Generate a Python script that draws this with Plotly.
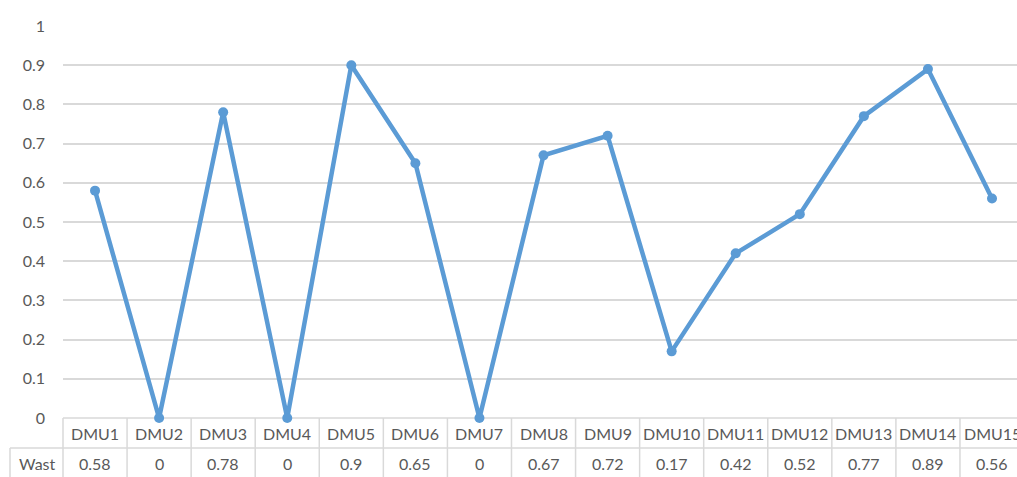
import plotly.graph_objects as go

categories = ["DMU1", "DMU2", "DMU3", "DMU4", "DMU5", "DMU6", "DMU7", "DMU8",
              "DMU9", "DMU10", "DMU11", "DMU12", "DMU13", "DMU14", "DMU15"]
wast = [0.58, 0, 0.78, 0, 0.9, 0.65, 0, 0.67, 0.72, 0.17, 0.42, 0.52, 0.77, 0.89, 0.56]
value_labels = ["0.58", "0", "0.78", "0", "0.9", "0.65", "0", "0.67", "0.72",
                "0.17", "0.42", "0.52", "0.77", "0.89", "0.56"]
series_name = "Wast"
y_ticks = [0, 0.1, 0.2, 0.3, 0.4, 0.5, 0.6, 0.7, 0.8, 0.9, 1]
y_tick_labels = ["0", "0.1", "0.2", "0.3", "0.4", "0.5", "0.6", "0.7", "0.8", "0.9", "1"]

FIG_W, FIG_H = 1017, 477
ML, MR, MT, MB = 63, 0, 26, 59
PW, PH = FIG_W - ML - MR, FIG_H - MT - MB
X_MIN, X_MAX = -0.5, 14.39
SPAN = X_MAX - X_MIN

TEXT = "#595959"
GRID = "#d9d9d9"
LINE = "#5b9bd5"
FONT = "Lato"

fig = go.Figure()
fig.add_trace(go.Scatter(
    x=categories, y=wast, mode="lines+markers", name=series_name,
    line=dict(color=LINE, width=4.5),
    marker=dict(color=LINE, size=10),
    cliponaxis=False,
))

row1 = -30 / PH
row2 = -62 / PH
wast_left = -53 / PW

shapes = []
line_style = dict(color=GRID, width=1.5)
shapes.append(dict(type="line", xref="paper", yref="paper", x0=0, x1=1.01, y0=0, y1=0,
                   line=line_style, layer="below"))
shapes.append(dict(type="line", xref="paper", yref="paper", x0=wast_left, x1=1.01, y0=row1, y1=row1,
                   line=line_style, layer="below"))
shapes.append(dict(type="line", xref="paper", yref="paper", x0=wast_left, x1=wast_left, y0=row1, y1=row2,
                   line=line_style, layer="below"))
for k in range(len(categories) + 1):
    xp = k / SPAN
    shapes.append(dict(type="line", xref="paper", yref="paper", x0=xp, x1=xp, y0=0, y1=row2,
                       line=line_style, layer="below"))

annotations = []
for c, v in zip(categories, value_labels):
    annotations.append(dict(x=c, xref="x", y=-15 / PH, yref="paper", text=c, showarrow=False,
                            xanchor="center", yanchor="middle", font=dict(family=FONT, size=16, color=TEXT)))
    annotations.append(dict(x=c, xref="x", y=-45 / PH, yref="paper", text=v, showarrow=False,
                            xanchor="center", yanchor="middle", font=dict(family=FONT, size=16, color=TEXT)))
annotations.append(dict(x=wast_left / 2 + 0.0015, xref="paper", y=-45 / PH, yref="paper", text=series_name,
                        showarrow=False, xanchor="center", yanchor="middle",
                        font=dict(family=FONT, size=16, color=TEXT)))

fig.update_layout(
    width=FIG_W, height=FIG_H,
    margin=dict(l=ML, r=MR, t=MT, b=MB, pad=0),
    paper_bgcolor="white", plot_bgcolor="white",
    showlegend=False,
    shapes=shapes, annotations=annotations,
    font=dict(family=FONT, size=16, color=TEXT),
)
fig.update_xaxes(type="category", range=[X_MIN, X_MAX], showticklabels=False, showgrid=False,
                 zeroline=False, showline=False, ticks="")
fig.update_yaxes(range=[0, 1], tickvals=y_ticks, ticktext=y_tick_labels, showgrid=True,
                 gridcolor=GRID, gridwidth=1.5, zeroline=False, showline=False, ticks="",
                 ticklabelstandoff=17, tickfont=dict(family=FONT, size=16, color=TEXT))

fig.write_html("out.html")
